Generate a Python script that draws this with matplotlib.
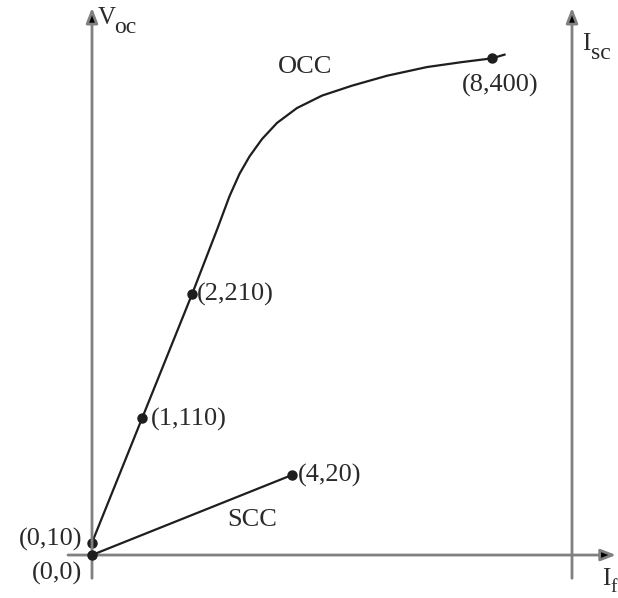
import matplotlib
matplotlib.use("Agg")
import matplotlib.pyplot as plt
from matplotlib.transforms import blended_transform_factory

plt.rcParams["font.family"] = "Liberation Serif"

# open circuit characteristic (field current If, Voc)
occ_if = [0, 1, 2, 2.5, 2.75, 2.95, 3.15, 3.4, 3.7, 4.1, 4.6, 5.2, 5.9, 6.7,
          7.4, 8.0, 8.25]
occ_v = [10, 110, 210, 262, 289, 307, 321, 335, 348, 360, 370, 378, 386, 393,
         397, 400, 403]
occ_pts_if = [0, 1, 2, 8]
occ_pts_v = [10, 110, 210, 400]

# short circuit characteristic (field current If, Isc)
scc_if = [0, 4]
scc_i = [0, 20]

txt = "#2a2a2a"
fs = 19

fig = plt.figure(figsize=(6.18, 5.98), dpi=100)
ax = fig.add_axes([0, 0, 1, 1])
ax.set_xlim(-1.84, 10.52)
ax.set_ylim(-34.6, 447)
ax.axis("off")
ax2 = ax.twinx()
ax2.set_ylim(-10.75, 138.75)
ax2.axis("off")

# axes with arrow heads
arr = dict(arrowstyle="-|>,head_length=0.9,head_width=0.35", fc="black",
           ec="#808080", lw=2, shrinkA=0, shrinkB=0)
vt = blended_transform_factory(ax.transData, ax.transAxes)
ax.annotate("", xy=(0, 0.987), xytext=(0, 0.033), xycoords=vt, textcoords=vt,
            arrowprops=arr)
ax.annotate("", xy=(9.6, 0.987), xytext=(9.6, 0.033), xycoords=vt, textcoords=vt,
            arrowprops=arr)
ax.annotate("", xy=(10.48, 0), xytext=(-0.48, 0), arrowprops=arr)

# axis names (main letter + subscript)
ax.text(0.12, 0.970, "V", transform=vt, fontsize=18, color=txt,
        ha="left", va="center")
ax.text(0.44, 0.954, "oc", transform=vt, fontsize=17, color=txt,
        ha="left", va="center")
ax.text(9.8, 0.926, "I", transform=vt, fontsize=18, color=txt,
        ha="left", va="center")
ax.text(9.98, 0.910, "sc", transform=vt, fontsize=17, color=txt,
        ha="left", va="center")
ax.text(10.2, 0.032, "I", transform=vt, fontsize=18, color=txt,
        ha="left", va="center")
ax.text(10.37, 0.018, "f", transform=vt, fontsize=14, color=txt,
        ha="left", va="center")

# curves
ax.plot(occ_if, occ_v, color="#1e1e1e", lw=1.6)
ax.plot(occ_pts_if, occ_pts_v, "o", color="#1e1e1e", ms=6.5)
ax2.plot(scc_if, scc_i, color="#1e1e1e", lw=1.6)
ax2.plot(scc_if, scc_i, "o", color="#1e1e1e", ms=6.5)

# point labels
offs = {(0, 10): (-10, 3, "right"), (1, 110): (9, -1, "left"),
        (2, 210): (5, 0, "left"), (8, 400): (8, -27, "center")}
for i, v in zip(occ_pts_if, occ_pts_v):
    dx, dy, ha = offs[(i, v)]
    ax.annotate(f"({i},{v})", xy=(i, v), xytext=(dx, dy),
                textcoords="offset pixels", ha=ha, va="center",
                fontsize=fs, color=txt)
ax2.annotate(f"({scc_if[0]},{scc_i[0]})", xy=(scc_if[0], scc_i[0]),
             xytext=(-10, -18), textcoords="offset pixels", ha="right",
             va="center", fontsize=fs, color=txt)
ax2.annotate(f"({scc_if[1]},{scc_i[1]})", xy=(scc_if[1], scc_i[1]),
             xytext=(6, 0), textcoords="offset pixels", ha="left",
             va="center", fontsize=fs, color=txt)

ax.text(4.26, 393, "OCC", fontsize=fs, color=txt, ha="center", va="center")
ax2.text(3.2, 8.75, "SCC", fontsize=fs, color=txt, ha="center", va="center")

fig.savefig("out.png", dpi=100)
